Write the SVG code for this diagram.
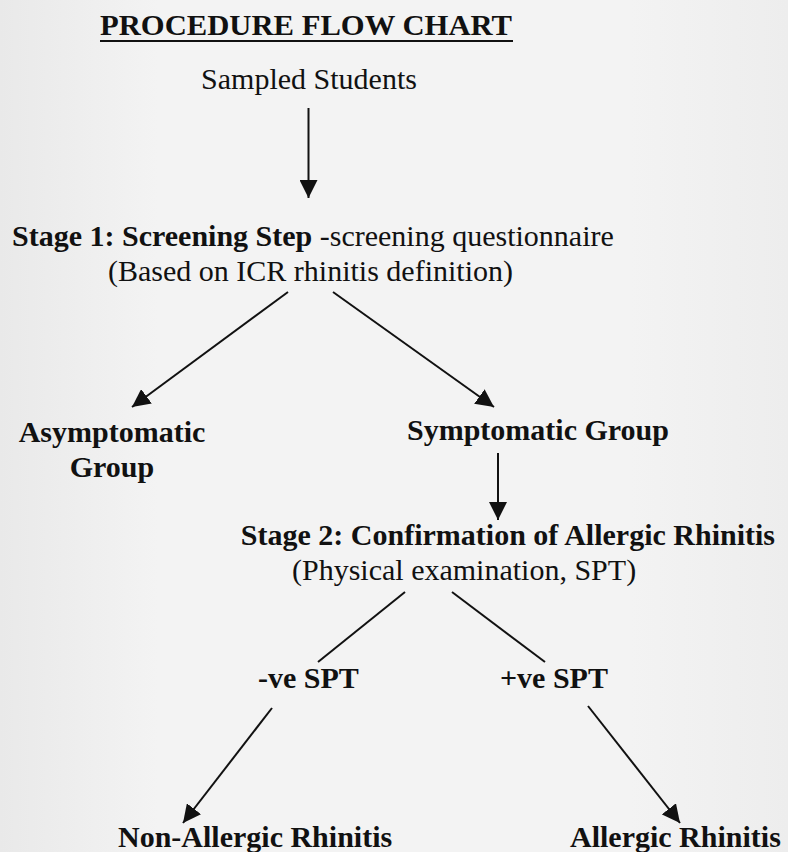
<svg xmlns="http://www.w3.org/2000/svg" width="788" height="852" viewBox="0 0 788 852">
<style>
text{font-family:"Liberation Serif","Times New Roman",serif;font-size:30px;fill:#111}
.b{font-weight:bold}
.c{stroke:#111;stroke-width:2;fill:none}
</style>
<defs>
<linearGradient id="bg" x1="0" y1="0" x2="1" y2="0">
<stop offset="0" stop-color="#e9e9e9"/>
<stop offset="0.2" stop-color="#f3f3f3"/>
<stop offset="0.8" stop-color="#f3f3f3"/>
<stop offset="1" stop-color="#ededed"/>
</linearGradient>
<marker id="ah" viewBox="0 0 10 10" refX="10" refY="5" markerWidth="18" markerHeight="18" markerUnits="userSpaceOnUse" orient="auto">
<path d="M0,0 L10,5 L0,10 z" fill="#111"/>
</marker>
</defs>
<rect width="788" height="852" fill="url(#bg)"/>
<g id="title">
<text class="b" x="100" y="35" textLength="412" lengthAdjust="spacingAndGlyphs">PROCEDURE FLOW CHART</text>
<line x1="100" y1="41" x2="513" y2="41" stroke="#111" stroke-width="2"/>
</g>
<g id="sampled"><text x="309" y="89" text-anchor="middle">Sampled Students</text></g>
<g id="stage1"><text x="12" y="246"><tspan class="b">Stage 1: Screening Step</tspan> -screening questionnaire</text>
<text x="108" y="281">(Based on ICR rhinitis definition)</text></g>
<g id="asymptomatic"><text class="b" x="112" y="442" text-anchor="middle">Asymptomatic</text>
<text class="b" x="112" y="477" text-anchor="middle">Group</text></g>
<g id="symptomatic"><text class="b" x="407" y="440">Symptomatic Group</text></g>
<g id="stage2"><text class="b" x="775" y="545" text-anchor="end">Stage 2: Confirmation of Allergic Rhinitis</text>
<text x="292" y="580">(Physical examination, SPT)</text></g>
<g id="negspt"><text class="b" x="258" y="688">-ve SPT</text></g>
<g id="posspt"><text class="b" x="500" y="688">+ve SPT</text></g>
<g id="nonallergic"><text class="b" x="118" y="847">Non-Allergic Rhinitis</text></g>
<g id="allergic"><text class="b" x="570" y="847">Allergic Rhinitis</text></g>
<g id="connectors">
<line class="c" x1="308.5" y1="108" x2="308.5" y2="198" marker-end="url(#ah)"/>
<line class="c" x1="288" y1="292" x2="132" y2="407" marker-end="url(#ah)"/>
<line class="c" x1="333" y1="292" x2="494" y2="407" marker-end="url(#ah)"/>
<line class="c" x1="498" y1="453" x2="498" y2="520" marker-end="url(#ah)"/>
<line class="c" x1="405" y1="592" x2="318" y2="662"/>
<line class="c" x1="452" y1="592" x2="545" y2="662"/>
<line class="c" x1="272" y1="708" x2="183" y2="823" marker-end="url(#ah)"/>
<line class="c" x1="588" y1="706" x2="680" y2="823" marker-end="url(#ah)"/>
</g>
</svg>
